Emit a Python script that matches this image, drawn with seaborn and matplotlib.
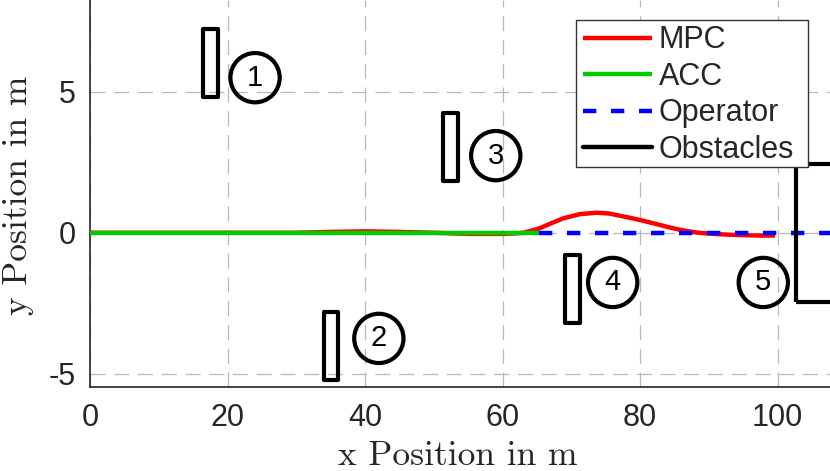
import numpy as np
import pandas as pd
import matplotlib
matplotlib.use('Agg')
import matplotlib.pyplot as plt
from matplotlib.patches import Rectangle
import seaborn as sns

# Trajectories
mpc_x = [0, 10, 20, 30, 35, 40, 45, 50, 55, 60, 62, 63, 64, 65.4, 67, 68.8, 71.25, 73.7,
         75.5, 77.1, 78.5, 80, 82, 83.9, 85.3, 86.8, 88.5, 90.6, 93, 95.5, 97.5, 99.6]
mpc_y = [0, 0, 0, 0, 0.03, 0.05, 0.03, 0, -0.04, -0.04, -0.02, 0, 0.06, 0.16, 0.33, 0.51, 0.66, 0.71,
         0.68, 0.6, 0.53, 0.45, 0.33, 0.21, 0.13, 0.06, 0.0, -0.04, -0.07, -0.09, -0.1, -0.1]
acc_x = [0, 65.3]
acc_y = [0, 0]
op_x = [65.3, 115]
op_y = [0, 0]

# Obstacles (lower left corner, width, height)
obs_x = [16.4, 34.0, 51.4, 69.1, 102.7]
obs_y = [4.8, -5.2, 1.83, -3.2, -2.45]
obs_w = [2.2, 2.1, 2.15, 2.1, 12.0]
obs_h = [2.4, 2.4, 2.4, 2.4, 4.9]

# Numbered circles
num_x = [24.0, 42.0, 59.0, 76.0, 97.9]
num_y = [5.49, -3.74, 2.73, -1.76, -1.76]
num_txt = ['1', '2', '3', '4', '5']

sns.set_theme(style='white')
plt.rcParams['font.family'] = ['Liberation Sans', 'DejaVu Sans']
plt.rcParams['axes.unicode_minus'] = False

fig = plt.figure(figsize=(8.3, 4.71), dpi=100)
ax = fig.add_axes([90 / 830, 84.3 / 471, 740 / 830, 386.7 / 471])

sns.lineplot(x=mpc_x, y=mpc_y, color='#ff0000', lw=3.2, sort=False, estimator=None, label='MPC', ax=ax, zorder=3)
sns.lineplot(x=acc_x, y=acc_y, color='#00cc00', lw=3.2, sort=False, estimator=None, label='ACC', ax=ax, zorder=4)
sns.lineplot(x=op_x, y=op_y, color='#0000ff', lw=3.2, sort=False, estimator=None, label='Operator', ax=ax, zorder=5)
for l in ax.get_lines():
    l.set_solid_capstyle('butt')
ax.get_lines()[2].set_dashes((3.0, 3.3))

for i in range(len(obs_x)):
    ax.add_patch(Rectangle((obs_x[i], obs_y[i]), obs_w[i], obs_h[i], fill=False, edgecolor='black',
                           lw=3, joinstyle='round', zorder=6, clip_on=True))
ax.plot([], [], color='black', lw=3.2, label='Obstacles')

sns.scatterplot(x=num_x, y=num_y, marker='o', s=1260, facecolor='none', edgecolor='black',
                linewidth=3, ax=ax, zorder=6, legend=False)
for i in range(len(num_x)):
    ax.text(num_x[i], num_y[i], num_txt[i], ha='center', va='center', fontsize=21, color='black', zorder=7)

ax.set_xlim(0, 107.6)
ax.set_ylim(-5.45, 8.24)
ax.set_xticks([0, 20, 40, 60, 80, 100])
ax.set_yticks([-5, 0, 5])
ax.grid(True, color='#b8b8b8', lw=0.9, dashes=(12, 7))
ax.set_axisbelow(True)
ax.tick_params(direction='in', length=5, width=1, colors='#262626', labelsize=22, pad=12)
ax.tick_params(axis='y', pad=10)
for s in ['top', 'right']:
    ax.spines[s].set_visible(False)
for s in ['left', 'bottom']:
    ax.spines[s].set_color('#262626')
    ax.spines[s].set_linewidth(1.2)

ax.set_xlabel('x Position in m', fontfamily='cmr10', fontsize=25.5, color='#262626', va='baseline')
ax.set_ylabel('y Position in m', fontfamily='cmr10', fontsize=25.5, color='#262626', va='baseline')
ax.xaxis.set_label_coords(0.4966, -0.2025)
ax.yaxis.set_label_coords(-0.0851, 0.495)

# legend box drawn separately so the right margin matches the original
ax.add_patch(Rectangle((0.6564, 0.5689), 0.3135, 0.3794, transform=ax.transAxes, facecolor='white',
                       edgecolor='#333333', lw=1.0, zorder=9, clip_on=False))
leg = ax.legend(loc='upper left', bbox_to_anchor=(0.6662, 0.9343), borderaxespad=0, fontsize=22,
                handlelength=2.25, handletextpad=0.22, labelspacing=0.21, borderpad=0,
                frameon=False)
leg.set_zorder(10)

fig.savefig('out.png', dpi=100)
